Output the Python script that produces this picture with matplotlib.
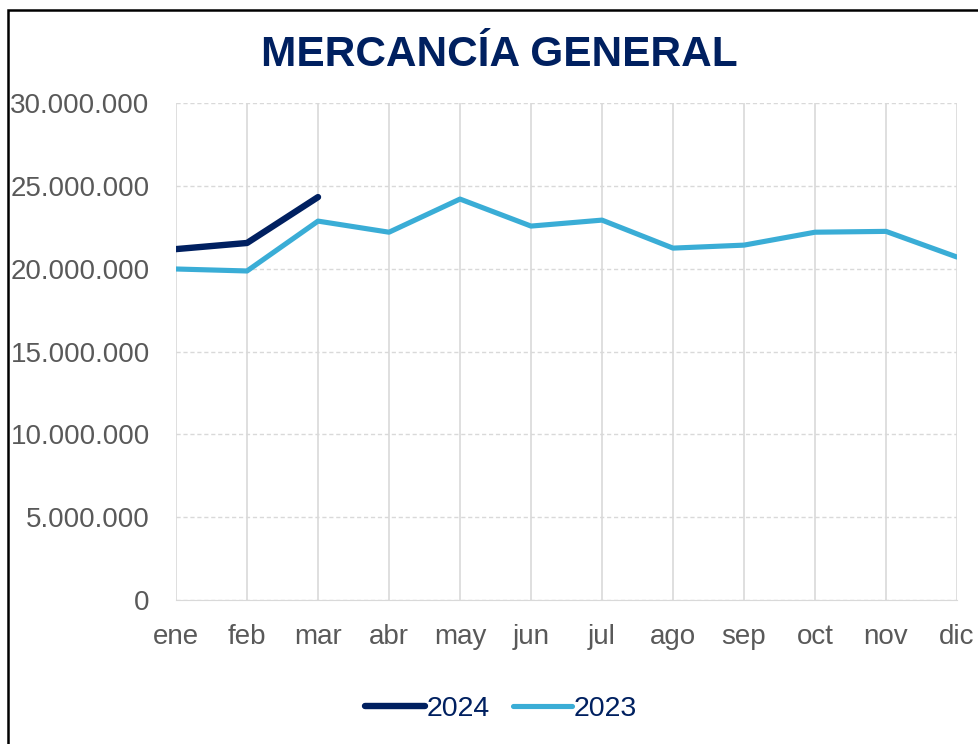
import matplotlib.pyplot as plt
from matplotlib.patches import Rectangle

plt.rcParams['font.family'] = ['Liberation Sans', 'DejaVu Sans']

meses = ['ene', 'feb', 'mar', 'abr', 'may', 'jun', 'jul', 'ago', 'sep', 'oct', 'nov', 'dic']
serie_2024 = [21180000, 21550000, 24320000]
serie_2023 = [19980000, 19860000, 22870000, 22200000, 24200000, 22570000,
              22930000, 21240000, 21420000, 22200000, 22250000, 20700000]
yticks = [0, 5000000, 10000000, 15000000, 20000000, 25000000, 30000000]

fig = plt.figure(figsize=(9.79, 7.44), dpi=100)
ax = fig.add_axes([0.1798, 0.1935, 0.7977, 0.6681])

x = range(len(meses))
ax.plot(x, serie_2023, color='#3AADD6', lw=3.7, solid_capstyle='round',
        solid_joinstyle='round', label='2023', zorder=3)
ax.plot(range(len(serie_2024)), serie_2024, color='#002060', lw=4.6,
        solid_capstyle='round', solid_joinstyle='round', label='2024', zorder=4)

ax.set_xlim(0, 11)
ax.set_ylim(0, 30000000)
ax.set_yticks(yticks)
ax.set_yticklabels([f'{v:,}'.replace(',', '.') for v in yticks])
ax.set_xticks(list(x))
ax.set_xticklabels(meses)
ax.tick_params(length=0, labelsize=20, labelcolor='#595959')
ax.tick_params(axis='y', pad=19)
ax.tick_params(axis='x', pad=17)

ax.grid(axis='y', color='#d9d9d9', ls=(0, (3, 2)), lw=1)
ax.grid(axis='x', color='#d9d9d9', ls='-', lw=1.2)
for s in ['top', 'right', 'left']:
    ax.spines[s].set_visible(False)
ax.spines['bottom'].set_color('#d9d9d9')
ax.set_axisbelow(True)

fig.text(0.51, 0.926, 'MERCANCÍA GENERAL', ha='center', va='center',
         fontsize=30.5, fontweight='bold', color='#002060')

handles, labels = ax.get_legend_handles_labels()
leg = fig.legend(handles[::-1], labels[::-1], loc='center', bbox_to_anchor=(0.512, 0.047),
                 ncol=2, frameon=False, fontsize=20.5, handlelength=2.1,
                 handletextpad=0.05, columnspacing=0.8)
for t in leg.get_texts():
    t.set_color('#002060')

fig.patches.append(Rectangle((8 / 979, -0.1), 1.1, 1.1 - 10 / 744,
                             transform=fig.transFigure, fill=False,
                             edgecolor='black', lw=1.8))

fig.savefig('out.png', dpi=100)
